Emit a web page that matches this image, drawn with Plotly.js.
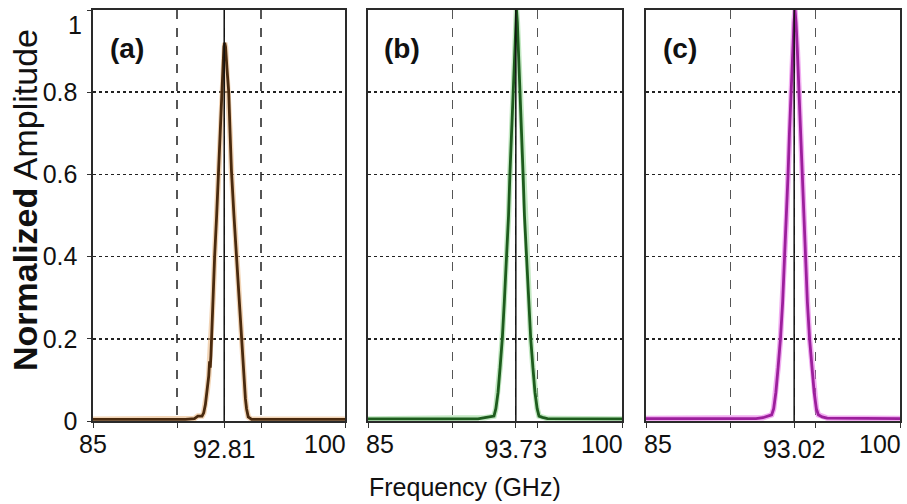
<!DOCTYPE html>
<html>
<head>
<meta charset="utf-8">
<script src="https://cdn.plot.ly/plotly-3.0.1.min.js"></script>
<style>html,body{margin:0;padding:0;background:#fff;}#chart{width:907px;height:504px;}</style>
</head>
<body>
<div id="chart"></div>
<script>
// ---- data ----
const panelLabels = ['(a)', '(b)', '(c)'];
const peakLines = [92.81, 93.73, 93.75];          // position of the solid marker line
const peakLabels = ['92.81', '93.73', '93.02'];    // text printed under the marker line
const gridX = [90, 95];
const xEnds = [85, 100];
const xEndLabels = ['85', '100'];
const yTicks = [0, 0.2, 0.4, 0.6, 0.8, 1];
const yTickLabels = ['0', '0.2', '0.4', '0.6', '0.8', '1'];

const freqA = [85, 90.5, 91.04, 91.24, 91.49, 91.59, 91.69, 91.79, 91.89, 91.94, 91.98, 92.02, 92.05, 92.15, 92.24, 92.36, 92.48, 92.57, 92.66, 92.73, 92.79, 92.84, 92.89, 92.97, 93.08, 93.16, 93.24, 93.39, 93.54, 93.69, 93.83, 93.91, 93.99, 94.07, 94.14, 94.24, 94.44, 100];
const ampA  = [0.004, 0.004, 0.006, 0.012, 0.012, 0.02, 0.04, 0.07, 0.11, 0.145, 0.13, 0.16, 0.2, 0.3, 0.4, 0.5, 0.61, 0.7, 0.8, 0.87, 0.91, 0.92, 0.91, 0.86, 0.8, 0.7, 0.61, 0.5, 0.4, 0.3, 0.2, 0.14, 0.09, 0.055, 0.03, 0.01, 0.004, 0.004];

const freqB = [85, 91.5, 91.9, 92.2, 92.44, 92.55, 92.68, 92.8, 92.93, 93.05, 93.19, 93.3, 93.38, 93.47, 93.55, 93.65, 93.72, 93.77, 93.82, 93.89, 93.99, 94.07, 94.16, 94.24, 94.35, 94.49, 94.61, 94.74, 94.86, 94.99, 95.1, 95.3, 95.6, 100];
const ampB  = [0.005, 0.005, 0.008, 0.01, 0.012, 0.03, 0.07, 0.13, 0.2, 0.29, 0.4, 0.5, 0.6, 0.7, 0.8, 0.9, 0.97, 1.0, 0.97, 0.9, 0.8, 0.7, 0.6, 0.5, 0.4, 0.29, 0.2, 0.13, 0.07, 0.03, 0.012, 0.009, 0.006, 0.005];

const freqC = [85, 91.5, 91.9, 92.2, 92.42, 92.54, 92.67, 92.8, 92.94, 93.07, 93.19, 93.3, 93.39, 93.47, 93.56, 93.66, 93.74, 93.8, 93.86, 93.94, 94.04, 94.13, 94.21, 94.3, 94.41, 94.53, 94.66, 94.8, 94.93, 95.06, 95.18, 95.4, 95.7, 100];
const ampC  = [0.006, 0.006, 0.008, 0.012, 0.015, 0.03, 0.07, 0.13, 0.2, 0.29, 0.4, 0.5, 0.6, 0.7, 0.8, 0.9, 0.97, 1.0, 0.97, 0.9, 0.8, 0.7, 0.6, 0.5, 0.4, 0.29, 0.2, 0.13, 0.07, 0.03, 0.015, 0.01, 0.007, 0.006];

const freqs = [freqA, freqB, freqC];
const amps = [ampA, ampB, ampC];
const lineColors = ['#4a2a0e', '#1d5c1d', '#9c1f9c'];
const haloColors = ['#e8b37c', '#8fd68f', '#e66ae6'];

// ---- build figure ----
const W = 907, H = 504;
const xDomains = [[93 / W, 345 / W], [368 / W, 622 / W], [646 / W, 900 / W]];
const yDomain = [1 - 421 / H, 1 - 10 / H];
const FONT = 'Arial, "Liberation Sans", sans-serif';
const yTop = yTicks[yTicks.length - 1];

const data = [];
const layout = {
  width: W, height: H,
  margin: {l: 0, r: 0, t: 0, b: 0},
  paper_bgcolor: '#fff', plot_bgcolor: '#fff',
  showlegend: false,
  shapes: [], annotations: []
};

for (let i = 0; i < 3; i++) {
  const sx = i === 0 ? '' : String(i + 1);
  const xa = 'x' + sx, ya = 'y' + sx;
  data.push({x: freqs[i], y: amps[i], xaxis: xa, yaxis: ya, type: 'scatter', mode: 'lines',
    line: {color: haloColors[i], width: 5.5}, opacity: 0.55, hoverinfo: 'skip'});
  data.push({x: freqs[i], y: amps[i], xaxis: xa, yaxis: ya, type: 'scatter', mode: 'lines',
    line: {color: lineColors[i], width: 2.8}});

  const tv = [xEnds[0], gridX[0], peakLines[i], gridX[1], xEnds[1]];
  const tt = ['', '', peakLabels[i], '', ''];
  layout['xaxis' + sx] = {
    domain: xDomains[i], anchor: ya, range: [85, 100],
    tickmode: 'array', tickvals: tv, ticktext: tt,
    showgrid: true, gridcolor: '#555', gridwidth: 1.3, griddash: 'dash',
    zeroline: false, showline: true, mirror: true, linecolor: '#2a2a2a', linewidth: 1.6,
    ticks: 'outside', ticklen: 5, tickcolor: '#333',
    tickfont: {family: FONT, size: 25, color: '#111'}
  };
  layout['yaxis' + sx] = {
    domain: yDomain, anchor: xa, range: [0, yTop],
    tickmode: 'array', tickvals: yTicks,
    // the top label is drawn just below the frame (as in the reference), see annotation
    ticktext: yTickLabels.map((t, k) => yTicks[k] === yTop ? '' : t),
    showticklabels: i === 0,
    showgrid: true, gridcolor: '#222', gridwidth: 1.5, griddash: 'dot',
    zeroline: false, showline: true, mirror: true, linecolor: '#2a2a2a', linewidth: 1.6,
    ticks: i === 0 ? 'outside' : '', ticklen: 4, tickcolor: '#333',
    ticklabelstandoff: 5,
    tickfont: {family: FONT, size: 25, color: '#111'}
  };

  layout.shapes.push({type: 'line', xref: xa, yref: ya + ' domain', x0: peakLines[i], x1: peakLines[i],
    y0: 0, y1: 1, line: {color: '#111', width: 1.5}, layer: 'above'});

  layout.annotations.push({xref: xa + ' domain', yref: ya + ' domain', x: 0.135, y: 0.907,
    text: '<b>' + panelLabels[i] + '</b>', showarrow: false, xanchor: 'center', yanchor: 'middle',
    font: {family: FONT, size: 28, color: '#111'}});

  layout.annotations.push({xref: xa, yref: 'paper', x: xEnds[0], y: yDomain[0], yshift: -7,
    text: xEndLabels[0], showarrow: false, xanchor: i === 0 ? 'center' : 'left', xshift: i === 0 ? 0 : -4,
    yanchor: 'top', font: {family: FONT, size: 25, color: '#111'}});
  layout.annotations.push({xref: xa, yref: 'paper', x: xEnds[1], y: yDomain[0], yshift: -7,
    text: xEndLabels[1], showarrow: false, xanchor: 'right', xshift: 3,
    yanchor: 'top', font: {family: FONT, size: 25, color: '#111'}});
}

// top y tick label of panel (a)
layout.annotations.push({xref: 'paper', yref: 'y', x: xDomains[0][0], y: yTop, xshift: -9, yshift: 1,
  text: yTickLabels[yTickLabels.length - 1], showarrow: false, xanchor: 'right', yanchor: 'top',
  font: {family: FONT, size: 25, color: '#111'}});

layout.annotations.push({xref: 'paper', yref: 'paper', x: 25 / W, y: 1 - 200 / H, textangle: -90,
  text: '<b>Normalized</b> Amplitude', showarrow: false,
  xanchor: 'center', yanchor: 'middle', font: {family: FONT, size: 34, color: '#111'}});
layout.annotations.push({xref: 'paper', yref: 'paper', x: 465 / W, y: 1 - 487 / H,
  text: 'Frequency (GHz)', showarrow: false, xanchor: 'center', yanchor: 'middle',
  font: {family: FONT, size: 25, color: '#111'}});

Plotly.newPlot('chart', data, layout, {staticPlot: true, displayModeBar: false});
</script>
</body>
</html>
